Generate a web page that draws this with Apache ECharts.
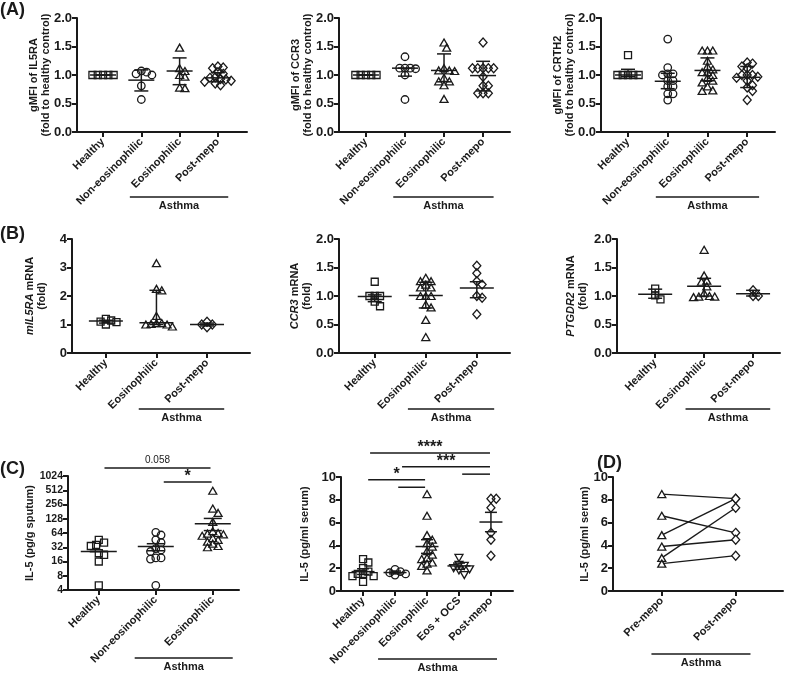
<!DOCTYPE html>
<html>
<head>
<meta charset="utf-8">
<script src="https://cdn.jsdelivr.net/npm/echarts@6/dist/echarts.min.js"></script>
<style>
  html, body { margin: 0; background: #fff; }
  #chart { width: 787px; height: 676px; }
</style>
</head>
<body>
<div id="chart"></div>
<script>
// categories
const catsA = ['Healthy', 'Non-eosinophilic', 'Eosinophilic', 'Post-mepo'];
const catsB = ['Healthy', 'Eosinophilic', 'Post-mepo'];
const catsC1 = ['Healthy', 'Non-eosinophilic', 'Eosinophilic'];
const catsC2 = ['Healthy', 'Non-eosinophilic', 'Eosinophilic', 'Eos + OCS', 'Post-mepo'];
const catsD = ['Pre-mepo', 'Post-mepo'];

// (A) gMFI, fold to healthy control - one list per group
const il5raA = [
    [1, 1, 1, 1, 1],
    [1.07, 1.05, 1.02, 1.0, 0.81, 0.57],
    [1.48, 1.12, 1.07, 1.0, 0.97, 0.78, 0.77],
    [1.15, 1.13, 1.12, 1.05, 1.02, 0.96, 0.95, 0.93, 0.92, 0.9, 0.88, 0.85, 0.82]
];
const ccr3A = [
    [1, 1, 1, 1, 1],
    [1.32, 1.12, 1.12, 1.11, 1.12, 1.0, 0.57],
    [1.57, 1.48, 1.12, 1.08, 1.07, 1.08, 0.95, 0.89, 0.89, 0.82, 0.58],
    [1.57, 1.12, 1.12, 1.12, 1.12, 1.12, 0.97, 0.81, 0.81, 0.68, 0.68, 0.68]
];
const crth2A = [
    [1.35, 1.0, 1.0, 1.0, 1.0, 1.0],
    [1.63, 1.13, 1.02, 1.02, 1.0, 0.9, 0.9, 0.8, 0.8, 0.67, 0.67, 0.56],
    [1.43, 1.43, 1.43, 1.25, 1.15, 1.1, 1.05, 1.05, 1.0, 0.95, 0.9, 0.87, 0.8, 0.73, 0.72],
    [1.22, 1.2, 1.15, 1.12, 1.0, 1.0, 1.0, 0.97, 0.95, 0.9, 0.82, 0.78, 0.72, 0.56]
];
// [median, lower, upper]
const il5raStats = [[1, 1, 1], [0.91, 0.72, 1.09], [1.07, 0.83, 1.3], [0.95, 0.88, 1.04]];
const ccr3Stats = [[1, 1, 1], [1.12, 0.98, 1.12], [1.08, 0.88, 1.37], [0.99, 0.72, 1.24]];
const crth2Stats = [[1.0, 0.97, 1.1], [0.89, 0.76, 1.03], [1.08, 0.9, 1.3], [0.96, 0.78, 1.15]];

// (B) mRNA, fold
const il5raB = [
    [1.0, 1.08, 1.2, 1.1, 1.14],
    [3.15, 2.25, 2.2, 1.3, 1.05, 1.05, 1.02, 1.0, 1.0, 0.93],
    [1.1, 0.9, 1.0, 1.0]
];
const ccr3B = [
    [1.25, 1.0, 1.0, 1.0, 0.9, 0.82],
    [1.32, 1.26, 1.26, 1.2, 1.15, 1.15, 1.0, 1.0, 1.0, 0.85, 0.8, 0.58, 0.28],
    [1.53, 1.4, 1.26, 1.2, 1.0, 0.97, 0.68]
];
const ptgdr2B = [
    [1.13, 1.01, 0.94],
    [1.81, 1.36, 1.27, 1.25, 1.17, 1.05, 1.0, 0.99, 0.99, 0.98],
    [1.1, 1.0, 1.0]
];
const il5raBStats = [[1.12, 1.05, 1.15], [1.06, 1.0, 2.2], [1.0, 0.95, 1.05]];
const ccr3BStats = [[0.99, 0.9, 1.02], [1.01, 0.79, 1.24], [1.14, 0.97, 1.25]];
const ptgdr2BStats = [[1.03, 0.96, 1.12], [1.17, 1.0, 1.31], [1.04, 1.0, 1.1]];

// (C) IL-5
const sputumC = [
    [46, 40, 36, 34, 24, 22, 16, 5],
    [66, 58, 46, 40, 30, 28, 26, 19, 19, 18, 5],
    [500, 210, 170, 110, 70, 64, 62, 60, 56, 50, 46, 42, 38, 34, 32]
];
const sputumStats = [[26, 26, 26], [33, 27, 38], [100, 72, 130]];
const serumC = [
    [2.8, 2.5, 2.0, 1.7, 1.5, 1.5, 1.3, 1.3, 0.8],
    [1.9, 1.7, 1.6, 1.5, 1.4],
    [8.5, 6.6, 4.9, 4.5, 4.2, 3.9, 3.5, 3.2, 2.9, 2.8, 2.5, 2.4, 2.2, 1.8],
    [2.9, 2.3, 2.2, 2.0, 1.9, 1.8, 1.4],
    [8.1, 8.1, 7.3, 5.1, 4.5, 3.1]
];
const serumStats = [[1.7, 1.45, 1.95], [1.62, 1.5, 1.75], [3.9, 3.3, 4.5], [2.2, 1.9, 2.45], [6.05, 5.2, 6.9]];

// significance brackets: [from, to, level]
const sigC1 = [[0.1, 1.96, 1510], [1.14, 1.98, 766]];
const sigC1Text = ['0.058', '*'];
const sigC2 = [[0.22, 3.97, 12.1], [1.22, 3.97, 10.9], [0.16, 1.94, 9.75], [1.1, 1.94, 9.1], [3.1, 3.97, 10.25]];
const sigC2Text = ['****', '***', '*', '', ''];

// (D) paired serum IL-5
const dPre = [8.5, 6.6, 4.9, 3.9, 2.9, 2.4];
const dPost = [8.1, 5.1, 8.1, 4.5, 7.3, 3.1];

const ink = '#1a1a1a';
const font = 'Liberation Sans';

const SQUARE = { symbol: 'rect', size: 7 };
const CIRCLE = { symbol: 'circle', size: 7.5 };
const TRI = { symbol: 'triangle', size: [8, 7] };
const INV = { symbol: 'triangle', size: [8, 7], rotate: 180 };
const DIAM = { symbol: 'diamond', size: [8, 9] };

const yFold2 = { min: 0, max: 2, step: 0.5, dec: 1 };
const panels = [
    { grid: [77, 18, 170, 114], xr: [-0.68, 3.76], cats: catsA, y: yFold2, title: 'gMFI of IL5RA\n(fold to healthy control)', gap: 25,
      groups: il5raA, stats: il5raStats, shapes: [SQUARE, CIRCLE, TRI, DIAM], bar: [13, 7], under: [0.7, 3.27], underGap: 65 },
    { grid: [339, 18, 171, 114], xr: [-0.69, 3.69], cats: catsA, y: yFold2, title: 'gMFI of CCR3\n(fold to healthy control)', gap: 25,
      groups: ccr3A, stats: ccr3Stats, shapes: [SQUARE, CIRCLE, TRI, DIAM], bar: [13, 7], under: [0.7, 3.27], underGap: 65 },
    { grid: [601, 18, 174, 114], xr: [-0.68, 3.7], cats: catsA, y: yFold2, title: 'gMFI of CRTH2\n(fold to healthy control)', gap: 25,
      groups: crth2A, stats: crth2Stats, shapes: [SQUARE, CIRCLE, TRI, DIAM], bar: [13, 7], under: [0.7, 3.3], underGap: 65 },
    { grid: [72, 239, 178, 114], xr: [-0.67, 2.85], cats: catsB, y: { min: 0, max: 4, step: 1, dec: 0 }, title: '{i|mIL5RA} mRNA\n(fold)', gap: 24,
      groups: il5raB, stats: il5raBStats, shapes: [SQUARE, TRI, DIAM], bar: [17, 7], under: [0.65, 2.34], underGap: 56 },
    { grid: [339, 239, 171, 114], xr: [-0.7, 2.65], cats: catsB, y: yFold2, title: '{i|CCR3} mRNA\n(fold)', gap: 26,
      groups: ccr3B, stats: ccr3BStats, shapes: [SQUARE, TRI, DIAM], bar: [17, 7], under: [0.65, 2.34], underGap: 56 },
    { grid: [617, 239, 163, 114], xr: [-0.78, 2.55], cats: catsB, y: yFold2, title: '{i|PTGDR2} mRNA\n(fold)', gap: 28,
      groups: ptgdr2B, stats: ptgdr2BStats, shapes: [SQUARE, TRI, DIAM], bar: [17, 7], under: [0.62, 2.35], underGap: 56 },
    { grid: [68, 476, 171, 114], xr: [-0.54, 2.46], cats: catsC1, y: { log: true, min: 4, max: 1024 }, title: 'IL-5 (pg/g sputum)', gap: 32,
      tickFont: 10.5, groups: sputumC, stats: sputumStats, shapes: [SQUARE, CIRCLE, TRI], bar: [18, 9], under: [0.63, 2.35], underGap: 68,
      sig: sigC1, sigText: sigC1Text },
    { grid: [341, 477, 172, 114], xr: [-0.69, 4.69], cats: catsC2, y: { min: 0, max: 10, step: 2, dec: 0 }, title: 'IL-5 (pg/ml serum)', gap: 30,
      groups: serumC, stats: serumStats, shapes: [SQUARE, CIRCLE, TRI, INV, DIAM], bar: [11.5, 6], under: [0.47, 4.19], underGap: 68,
      sig: sigC2, sigText: sigC2Text },
    { grid: [613, 477, 170, 114], xr: [-0.66, 1.64], cats: catsD, y: { min: 0, max: 10, step: 2, dec: 0 }, title: 'IL-5 (pg/ml serum)', gap: 22,
      pairs: [dPre, dPost], shapes: [TRI, DIAM], under: [-0.14, 1.2], underGap: 63 }
];

const letters = [['(A)', 0, 1], ['(B)', 0, 225], ['(C)', 0, 460], ['(D)', 597, 454]];

function barItem(half, cap) {
    return function (params, api) {
        const x = api.value(0);
        const c = api.coord([x, api.value(1)]);
        const lo = api.coord([x, api.value(2)]);
        const hi = api.coord([x, api.value(3)]);
        const st = { stroke: ink, lineWidth: 1.5 };
        const seg = (x1, y1, x2, y2) => ({ type: 'line', shape: { x1, y1, x2, y2 }, style: st });
        return { type: 'group', children: [
            seg(c[0] - half, c[1], c[0] + half, c[1]),
            seg(lo[0], lo[1], hi[0], hi[1]),
            seg(lo[0] - cap, lo[1], lo[0] + cap, lo[1]),
            seg(hi[0] - cap, hi[1], hi[0] + cap, hi[1])
        ] };
    };
}

function sigItem(texts) {
    return function (params, api) {
        const a = api.coord([api.value(0), api.value(2)]);
        const b = api.coord([api.value(1), api.value(2)]);
        const t = texts[params.dataIndex];
        const star = /^\*+$/.test(t);
        const children = [{ type: 'line', shape: { x1: a[0], y1: a[1], x2: b[0], y2: a[1] }, style: { stroke: ink, lineWidth: 1.5 } }];
        if (t) {
            children.push({ type: 'text', x: (a[0] + b[0]) / 2, y: a[1] - (star ? 5 : 8),
                style: { text: t, fill: ink, font: star ? 'bold 16px ' + font : '10px ' + font, align: 'center', verticalAlign: 'middle' } });
        }
        return { type: 'group', children };
    };
}

// spread points of one group sideways so they do not sit on each other
function swarm(ys, dist, step) {
    const order = ys.map((y, i) => i).sort((a, b) => ys[a] - ys[b]);
    const placed = [];
    const dx = ys.map(() => 0);
    order.forEach(i => {
        for (let k = 0; k < 60; k++) {
            const off = (k % 2 ? 1 : -1) * Math.ceil(k / 2) * step;
            if (placed.every(p => Math.hypot(p[0] - off, p[1] - ys[i]) >= dist)) {
                dx[i] = off;
                placed.push([off, ys[i]]);
                break;
            }
        }
    });
    return dx;
}

const option = {
    animation: false,
    backgroundColor: '#fff',
    textStyle: { fontFamily: font },
    grid: [], xAxis: [], yAxis: [], series: [],
    graphic: letters.map(l => ({ type: 'text', left: l[1], top: l[2], style: { text: l[0], font: 'bold 18px ' + font, fill: ink } }))
};

const swarmList = [];

panels.forEach((p, gi) => {
    option.grid.push({ left: p.grid[0], top: p.grid[1], width: p.grid[2], height: p.grid[3] });
    const ticks = p.cats.map((c, i) => i);
    option.xAxis.push({
        type: 'value', gridIndex: gi, min: p.xr[0], max: p.xr[1],
        axisLine: { onZero: false, lineStyle: { color: ink, width: 2 } },
        axisTick: { show: true, length: 5, customValues: ticks, lineStyle: { color: ink, width: 2 } },
        axisLabel: { customValues: ticks, rotate: 45, margin: 8, color: ink, fontSize: 11, fontWeight: 'bold', fontFamily: font,
            formatter: v => p.cats[Math.round(v)] },
        splitLine: { show: false }
    });
    const ya = {
        gridIndex: gi, min: p.y.min, max: p.y.max,
        name: p.title, nameLocation: 'middle', nameGap: p.gap, nameMoveOverlap: false,
        nameTextStyle: { color: ink, fontSize: 11, fontWeight: 'bold', fontFamily: font, lineHeight: 12,
            rich: { i: { fontStyle: 'italic', fontWeight: 'bold', fontSize: 11, color: ink, fontFamily: font, lineHeight: 12 } } },
        axisLine: { show: true, onZero: false, lineStyle: { color: ink, width: 2 } },
        axisTick: { show: true, length: 5, lineStyle: { color: ink, width: 2 } },
        axisLabel: { color: ink, fontSize: p.tickFont || 13, fontWeight: 'bold', fontFamily: font, margin: 5 },
        splitLine: { show: false }
    };
    if (p.y.log) {
        ya.type = 'log';
        ya.logBase = 2;
        ya.splitNumber = 8;
        ya.axisLabel.formatter = v => String(Math.round(v));
    } else {
        ya.type = 'value';
        ya.interval = p.y.step;
        ya.axisLabel.formatter = v => v.toFixed(p.y.dec);
    }
    option.yAxis.push(ya);

    if (p.stats) {
        option.series.push({
            type: 'custom', xAxisIndex: gi, yAxisIndex: gi, silent: true, z: 2,
            renderItem: barItem(p.bar[0], p.bar[1]),
            data: p.stats.map((s, i) => [i, s[0], s[1], s[2]])
        });
    }
    if (p.sig) {
        option.series.push({
            type: 'custom', xAxisIndex: gi, yAxisIndex: gi, silent: true, z: 2, clip: false,
            renderItem: sigItem(p.sigText),
            data: p.sig
        });
    }
    let groups = p.groups;
    if (p.pairs) {
        groups = p.pairs;
        p.pairs[0].forEach((v, i) => {
            option.series.push({
                type: 'line', xAxisIndex: gi, yAxisIndex: gi, silent: true, z: 2, symbol: 'none',
                lineStyle: { color: ink, width: 1.4 },
                data: [[0, p.pairs[0][i]], [1, p.pairs[1][i]]]
            });
        });
    }
    groups.forEach((vals, ci) => {
        const sh = p.shapes[ci];
        const s = {
            type: 'scatter', xAxisIndex: gi, yAxisIndex: gi, silent: true, z: 3,
            symbol: sh.symbol, symbolSize: sh.size, symbolRotate: sh.rotate || 0,
            itemStyle: { color: p.pairs ? '#fff' : 'rgba(255,255,255,0)', borderColor: ink, borderWidth: 1.3, opacity: 1 },
            data: vals.map(v => [ci, v])
        };
        option.series.push(s);
        if (!p.pairs) swarmList.push({ gi, x: ci, values: vals, series: s });
    });
});

const chart = echarts.init(document.getElementById('chart'));
chart.setOption(option);

swarmList.forEach(s => {
    const ys = s.values.map(v => chart.convertToPixel({ gridIndex: s.gi }, [s.x, v])[1]);
    const dx = swarm(ys, 5.3, 2.65);
    s.series.data = s.values.map((v, i) => ({ value: [s.x, v], symbolOffset: [dx[i], 0] }));
});

panels.forEach((p, gi) => {
    const a = chart.convertToPixel({ gridIndex: gi }, [p.under[0], p.y.min]);
    const b = chart.convertToPixel({ gridIndex: gi }, [p.under[1], p.y.min]);
    const y = a[1] + p.underGap;
    option.graphic.push({ type: 'line', shape: { x1: a[0], y1: y, x2: b[0], y2: y }, style: { stroke: ink, lineWidth: 1.5 } });
    option.graphic.push({ type: 'text', x: (a[0] + b[0]) / 2, y: y + 9,
        style: { text: 'Asthma', font: 'bold 11px ' + font, fill: ink, align: 'center', verticalAlign: 'middle' } });
});

chart.setOption(option);
window.addEventListener('resize', chart.resize);
</script>
</body>
</html>
